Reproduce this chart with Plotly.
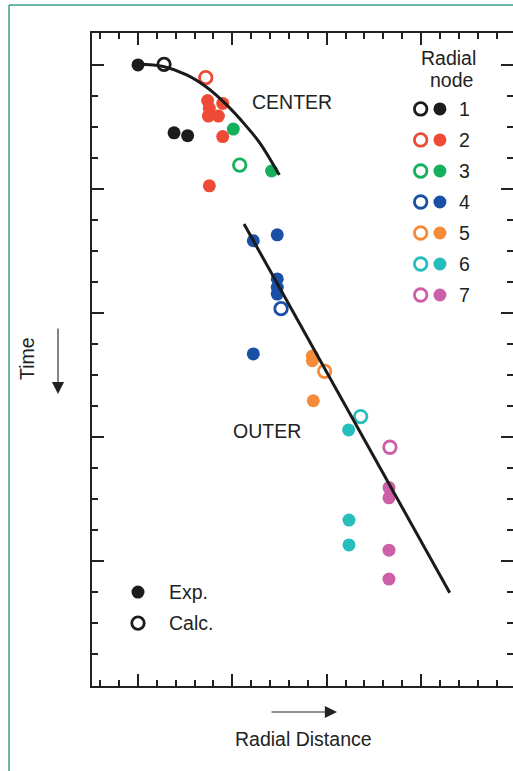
import plotly.graph_objects as go

# ---- data (x: radial distance, y: time, both in tick units) ----
nodes = ["1", "2", "3", "4", "5", "6", "7"]
node_colors = ["#1c1c1c", "#ee4b36", "#14b05c", "#1a4fa6", "#f58a3a", "#26bdbd", "#cc5fa8"]

exp_x = [
    [0.00, 1.91, 2.63],
    [3.69, 4.49, 3.78, 3.73, 4.26, 4.49, 3.78],
    [5.05, 7.08],
    [6.11, 7.38, 7.38, 7.38, 7.38, 6.11],
    [9.24, 9.24, 9.29],
    [11.16, 11.18, 11.18],
    [13.30, 13.30, 13.30, 13.30],
]
exp_y = [
    [1.00, 3.19, 3.28],
    [2.15, 2.24, 2.40, 2.65, 2.65, 3.31, 4.90],
    [3.07, 4.42],
    [6.67, 6.48, 7.90, 8.17, 8.39, 10.32],
    [10.39, 10.54, 11.83],
    [12.77, 15.68, 16.48],
    [14.63, 14.96, 16.65, 17.58],
]
calc_x = [[1.38], [3.59], [5.39], [7.58], [9.89], [11.80], [13.35]]
calc_y = [[0.98], [1.41], [4.23], [8.86], [10.88], [12.34], [13.33]]

# fitted trends
center_fit_x = [0.02, 1.34, 2.58, 3.64, 4.70, 5.76, 6.47, 7.49]
center_fit_y = [0.97, 1.05, 1.32, 1.72, 2.29, 2.99, 3.53, 4.55]
outer_fit_x = [5.62, 16.52]
outer_fit_y = [6.13, 18.02]

# ---- layout geometry ----
W, H = 513, 771
ML, MR, MT, MB = 92, 0, 33, 85
X0, X1 = -2.438, 19.873
Y0, Y1 = -0.03, 21.03
TEXT = "#222222"
FONT = "Liberation Sans, Arial, Helvetica, sans-serif"
TEAL = "#3a9e8e"
FS = 19.5
DOT = 13
RING = 12.5
RING_W = 2.8


def px(xp):
    return (xp - ML) / (W - ML - MR)


def py(yp):
    return 1 - (yp - MT) / (H - MT - MB)


fig = go.Figure()

for i, c in enumerate(node_colors):
    fig.add_trace(go.Scatter(
        x=exp_x[i], y=exp_y[i], mode="markers",
        marker=dict(symbol="circle", size=DOT, color=c, line=dict(width=0)),
        showlegend=False, hoverinfo="skip"))
for i, c in enumerate(node_colors):
    fig.add_trace(go.Scatter(
        x=calc_x[i], y=calc_y[i], mode="markers",
        marker=dict(symbol="circle-open", size=RING, color=c, line=dict(width=RING_W)),
        showlegend=False, hoverinfo="skip"))

fig.add_trace(go.Scatter(x=center_fit_x, y=center_fit_y, mode="lines",
                         line=dict(color="#1a1a1a", width=3, shape="spline"),
                         showlegend=False, hoverinfo="skip"))
fig.add_trace(go.Scatter(x=outer_fit_x, y=outer_fit_y, mode="lines",
                         line=dict(color="#1a1a1a", width=3),
                         showlegend=False, hoverinfo="skip"))

# node key: open + filled marker per row
key_rows = [2.42 + k for k in range(len(nodes))]
fig.add_trace(go.Scatter(x=[14.98] * len(nodes), y=key_rows, mode="markers",
                         marker=dict(symbol="circle-open", size=RING, color=node_colors,
                                     line=dict(width=RING_W)),
                         showlegend=False, hoverinfo="skip"))
fig.add_trace(go.Scatter(x=[16.0] * len(nodes), y=key_rows, mode="markers",
                         marker=dict(symbol="circle", size=DOT, color=node_colors),
                         showlegend=False, hoverinfo="skip"))
# Exp./Calc. key
fig.add_trace(go.Scatter(x=[0.0], y=[18.0], mode="markers",
                         marker=dict(symbol="circle", size=DOT, color="#1c1c1c"),
                         showlegend=False, hoverinfo="skip"))
fig.add_trace(go.Scatter(x=[0.0], y=[19.0], mode="markers",
                         marker=dict(symbol="circle-open", size=RING, color="#1c1c1c",
                                     line=dict(width=RING_W)),
                         showlegend=False, hoverinfo="skip"))

# invisible trace so the right-hand tick axis is rendered
fig.add_trace(go.Scatter(x=[X0], y=[Y0], yaxis="y2", mode="markers",
                         marker=dict(opacity=0), showlegend=False, hoverinfo="skip"))

ann = []


def label(text, x, y, size=FS, xanchor="center", xref="x", yref="y", angle=0):
    ann.append(dict(text=text, x=x, y=y, xref=xref, yref=yref, showarrow=False,
                    xanchor=xanchor, yanchor="middle", textangle=angle,
                    font=dict(family=FONT, size=size, color=TEXT)))


label("CENTER", 8.16, 2.19)
label("OUTER", 6.84, 12.81)
label("Radial", 16.48, 0.77)
label("node", 16.64, 1.48)
for k, n in enumerate(nodes):
    label(n, 17.28, key_rows[k])
label("Exp.", 1.54, 18.0, xanchor="left")
label("Calc.", 1.54, 19.0, xanchor="left")
label("Time", px(27), py(359), xref="paper", yref="paper", angle=-90)
label("Radial Distance", px(303), py(739), xref="paper", yref="paper")

# direction arrows
ann.append(dict(x=px(58), y=py(394), xref="paper", yref="paper", text="",
                showarrow=True, ax=0, ay=-67, axref="pixel", ayref="pixel",
                arrowhead=2, arrowsize=2.2, arrowwidth=1.1, arrowcolor=TEXT))
ann.append(dict(x=px(337), y=py(712), xref="paper", yref="paper", text="",
                showarrow=True, ax=-67, ay=0, axref="pixel", ayref="pixel",
                arrowhead=2, arrowsize=2.2, arrowwidth=1.1, arrowcolor=TEXT))

shapes = [
    dict(type="line", xref="paper", yref="paper", x0=px(9), x1=px(9), y0=py(5), y1=py(771),
         line=dict(color=TEAL, width=1.5)),
    dict(type="line", xref="paper", yref="paper", x0=px(9), x1=px(513), y0=py(5), y1=py(5),
         line=dict(color=TEAL, width=1.5)),
]

tick_style = dict(showgrid=False, zeroline=False, ticks="inside", ticklen=12,
                  tickwidth=1.5, tickcolor=TEXT, showticklabels=False)
minor_style = dict(ticks="inside", ticklen=6, tickwidth=1.5, tickcolor=TEXT,
                   tickmode="linear", tick0=0, dtick=1, showgrid=False)

fig.update_layout(
    width=W, height=H,
    margin=dict(l=ML, r=MR, t=MT, b=MB),
    paper_bgcolor="white", plot_bgcolor="white",
    xaxis=dict(range=[X0, X1], tickmode="linear", tick0=0, dtick=5,
               showline=True, linecolor=TEXT, linewidth=1.5, mirror="ticks",
               minor=minor_style, **tick_style),
    yaxis=dict(range=[Y1, Y0], tickmode="linear", tick0=1, dtick=4,
               showline=True, linecolor=TEXT, linewidth=1.5, mirror=False,
               minor=minor_style, **tick_style),
    yaxis2=dict(range=[Y1, Y0], overlaying="y", side="right", anchor="x",
                tickmode="linear", tick0=1, dtick=4, showline=False,
                minor=minor_style, **tick_style),
    annotations=ann,
    shapes=shapes,
)

fig.write_html("out.html")
